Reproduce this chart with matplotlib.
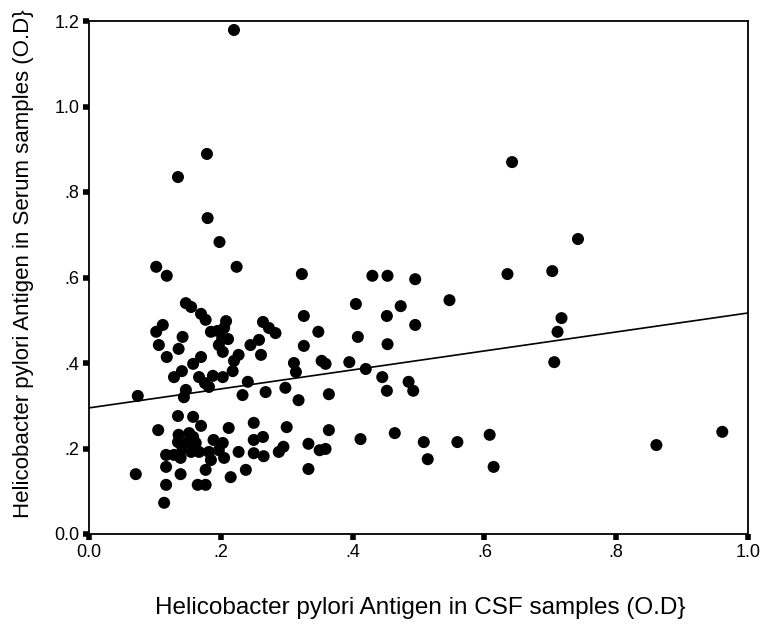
import matplotlib
matplotlib.use("Agg")
import matplotlib.pyplot as plt

plt.rcParams['font.family'] = ['Liberation Sans', 'DejaVu Sans']

# CSF optical density (x) and serum optical density (y)
csf = [
    0.220, 0.179, 0.135, 0.642, 0.180, 0.198, 0.742, 0.102, 0.118, 0.224,
    0.323, 0.635, 0.703, 0.430, 0.453, 0.495, 0.547, 0.405, 0.473, 0.147,
    0.155, 0.170, 0.177, 0.326, 0.452, 0.495, 0.112, 0.102, 0.142, 0.106,
    0.136, 0.118, 0.208, 0.185, 0.195, 0.205, 0.202, 0.211, 0.197, 0.203,
    0.264, 0.273, 0.283, 0.258, 0.245, 0.261, 0.227, 0.220, 0.218, 0.170,
    0.158, 0.141, 0.129, 0.167, 0.176, 0.188, 0.203, 0.182, 0.241, 0.233,
    0.268, 0.298, 0.311, 0.314, 0.348, 0.408, 0.326, 0.453, 0.353, 0.359,
    0.395, 0.420, 0.445, 0.485, 0.492, 0.452, 0.318, 0.364, 0.074, 0.147,
    0.144, 0.717, 0.711, 0.706,
    0.135, 0.158, 0.170, 0.212, 0.250, 0.300, 0.105, 0.136, 0.152, 0.135,
    0.150, 0.142, 0.158, 0.162, 0.155, 0.117, 0.129, 0.139, 0.167, 0.182,
    0.189, 0.203, 0.197, 0.205, 0.185, 0.227, 0.250, 0.264, 0.250, 0.265,
    0.288, 0.295, 0.117, 0.139, 0.071, 0.177, 0.238, 0.215, 0.117, 0.165,
    0.177, 0.114, 0.364, 0.333, 0.350, 0.359, 0.412, 0.464, 0.508, 0.559,
    0.608, 0.514, 0.614, 0.333, 0.861, 0.961,
]
serum = [
    1.179, 0.889, 0.835, 0.870, 0.739, 0.683, 0.690, 0.625, 0.604, 0.625,
    0.608, 0.608, 0.615, 0.604, 0.604, 0.596, 0.547, 0.538, 0.533, 0.540,
    0.531, 0.515, 0.501, 0.510, 0.510, 0.489, 0.489, 0.473, 0.461, 0.442,
    0.433, 0.414, 0.498, 0.473, 0.475, 0.482, 0.456, 0.456, 0.442, 0.426,
    0.496, 0.482, 0.470, 0.454, 0.442, 0.419, 0.419, 0.405, 0.381, 0.414,
    0.398, 0.381, 0.367, 0.367, 0.353, 0.370, 0.367, 0.344, 0.356, 0.325,
    0.332, 0.342, 0.400, 0.379, 0.473, 0.461, 0.440, 0.444, 0.405, 0.398,
    0.402, 0.386, 0.367, 0.356, 0.335, 0.335, 0.313, 0.327, 0.323, 0.337,
    0.320, 0.505, 0.473, 0.402,
    0.276, 0.274, 0.253, 0.248, 0.260, 0.250, 0.243, 0.232, 0.236, 0.215,
    0.215, 0.199, 0.227, 0.213, 0.192, 0.185, 0.185, 0.178, 0.192, 0.192,
    0.220, 0.213, 0.196, 0.178, 0.173, 0.192, 0.220, 0.227, 0.189, 0.182,
    0.192, 0.204, 0.157, 0.140, 0.140, 0.150, 0.150, 0.133, 0.115, 0.115,
    0.115, 0.073, 0.243, 0.211, 0.196, 0.199, 0.222, 0.236, 0.215, 0.215,
    0.232, 0.175, 0.157, 0.152, 0.208, 0.239,
]

# fit line as drawn in the picture
fit_intercept = 0.295
fit_slope = 0.222
fit_x = [0.0, 1.0]

x_ticks = [0.0, 0.2, 0.4, 0.6, 0.8, 1.0]
x_ticklabels = ["0.0", ".2", ".4", ".6", ".8", "1.0"]
y_ticks = [0.0, 0.2, 0.4, 0.6, 0.8, 1.0, 1.2]
y_ticklabels = ["0.0", ".2", ".4", ".6", ".8", "1.0", "1.2"]

fig = plt.figure(figsize=(7.6, 6.26), dpi=100)
ax = fig.add_axes([89 / 760, 1 - 534 / 626, (748 - 89) / 760, (534 - 21) / 626])

ax.scatter(csf, serum, s=75, color="black", edgecolors="none", zorder=3)
ax.plot(fit_x, [fit_intercept + fit_slope * v for v in fit_x], color="black", lw=1.2, zorder=2)

ax.set_xlim(0, 1.0)
ax.set_ylim(0, 1.2)
ax.set_xticks(x_ticks)
ax.set_xticklabels(x_ticklabels)
ax.set_yticks(y_ticks)
ax.set_yticklabels(y_ticklabels)
ax.tick_params(direction="out", length=4, width=4, labelsize=13, pad=3)

for sp in ax.spines.values():
    sp.set_linewidth(1.3)

ax.set_xlabel("Helicobacter pylori Antigen in CSF samples (O.D}", fontsize=17.5)
ax.set_ylabel("Helicobacter pylori Antigen in Serum samples (O.D}", fontsize=16)
ax.xaxis.set_label_coords(0.502, -0.123)
ax.yaxis.set_label_coords(-0.084, 0.528)

fig.savefig("out.png", dpi=100)
